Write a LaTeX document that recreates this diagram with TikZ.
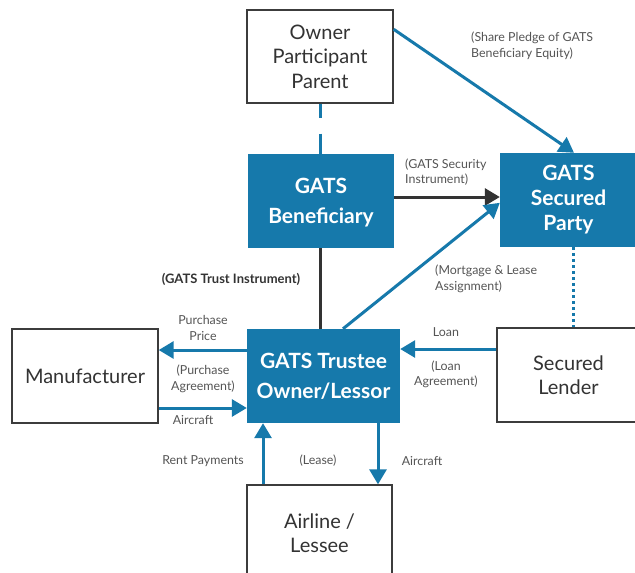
\documentclass[tikz,border=0pt]{standalone}
\usepackage{fontspec}
\setmainfont{Lato}
\usetikzlibrary{arrows.meta,calc}
\definecolor{gblue}{RGB}{22,121,171}
\definecolor{gdark}{RGB}{51,51,51}
\definecolor{glabel}{RGB}{85,85,85}
\definecolor{gborder}{RGB}{60,60,60}
\begin{document}
\begin{tikzpicture}[x=1pt,y=-1pt,
  wbox/.style={draw=gborder,line width=1.4pt,fill=white,text=gdark,align=center,
    font=\fontsize{20}{24.5}\selectfont,inner sep=0pt},
  bbox/.style={fill=gblue,text=white,align=center,
    font=\bfseries\fontsize{21}{30}\selectfont,inner sep=0pt},
  lbl/.style={text=glabel,font=\fontsize{12.4}{15.5}\selectfont,inner sep=0pt},
  barrow/.style={draw=gblue,line width=3pt,-{Triangle[length=15pt,width=17pt]}},
  darrow/.style={draw=gdark,line width=3pt,-{Triangle[length=15pt,width=17pt]}}]
\useasboundingbox (0,0) rectangle (635,573);
\fill[white] (0,0) rectangle (635,573);
% boxes
\node[wbox,minimum width=146pt,minimum height=93pt] (owner) at (320,56.5) {Owner\\Participant\\Parent};
\node[bbox,minimum width=146pt,minimum height=94pt,text depth=0pt] (ben) at (321,201) {GATS\\Beneficiary};
\node[bbox,minimum width=137pt,minimum height=94pt,font=\bfseries\fontsize{21}{25}\selectfont] (sparty) at (568.5,200) {GATS\\Secured\\Party};
\node[bbox,minimum width=153pt,minimum height=94pt] (trustee) at (323.5,376) {GATS Trustee\\Owner/Lessor};
\node[wbox,minimum width=146pt,minimum height=94pt] (man) at (85,376) {Manufacturer};
\node[wbox,minimum width=143pt,minimum height=94pt] (lender) at (568.5,375) {Secured\\Lender};
\node[wbox,minimum width=145pt,minimum height=96pt,text depth=0pt] (airline) at (319.5,533) {Airline /\\Lessee};
% connectors
\draw[gblue,line width=3pt,dash pattern=on 14pt off 16pt on 30pt] (owner.south) -- (owner.south |- ben.north);
\draw[barrow] ([yshift=-20pt]owner.north east) -- ([xshift=5.5pt]sparty.north);
\draw[darrow] ([yshift=4pt]ben.east) -- ([yshift=3pt]sparty.west);
\draw[gdark,line width=3pt] ([xshift=-1pt]ben.south) -- ([xshift=-1pt]ben.south |- trustee.north);
\draw[barrow] ([xshift=19.5pt]trustee.north) -- ([yshift=-50pt]sparty.north west);
\draw[gblue,line width=3pt,dash pattern=on 3pt off 3pt] ([xshift=4.5pt]sparty.south) -- ([xshift=4.5pt]sparty.south |- lender.north);
\draw[barrow] ([yshift=26pt]trustee.west) -- ([yshift=26pt]trustee.west -| man.east);
\draw[barrow] ([yshift=-32pt]man.east) -- ([yshift=-32pt]man.east -| trustee.west);
\draw[barrow] ([yshift=26pt]lender.west) -- ([yshift=26pt]lender.west -| trustee.east);
\draw[barrow] ([xshift=-56.5pt]airline.north) -- ([xshift=-56.5pt]airline.north |- trustee.south);
\draw[barrow] ([xshift=54.5pt]trustee.south) -- ([xshift=54.5pt]trustee.south |- airline.north);
% labels
\node[lbl,anchor=west,align=left] (l1) at (471,46) {(Share Pledge of GATS\\Beneficiary Equity)};
\node[lbl,anchor=west,align=left] (l2) at (405,172) {(GATS Security\\Instrument)};
\node[lbl,font=\bfseries\fontsize{13}{15.5}\selectfont,text=gdark] (l3) at (231,279) {(GATS Trust Instrument)};
\node[lbl,anchor=west,align=left] (l4) at (435,279) {(Mortgage \& Lease\\Assignment)};
\node[lbl,align=center] (l5) at (203,328) {Purchase\\Price};
\node[lbl,align=center] (l6) at (203,379) {(Purchase\\Agreement)};
\node[lbl] (l7) at (193,420) {Aircraft};
\node[lbl] (l8) at (446,332) {Loan};
\node[lbl,align=center] (l9) at (446,374.5) {(Loan\\Agreement)};
\node[lbl] (l10) at (203,461) {Rent Payments};
\node[lbl] (l11) at (318,461) {(Lease)};
\node[lbl] (l12) at (422,461) {Aircraft};
\end{tikzpicture}
\end{document}
